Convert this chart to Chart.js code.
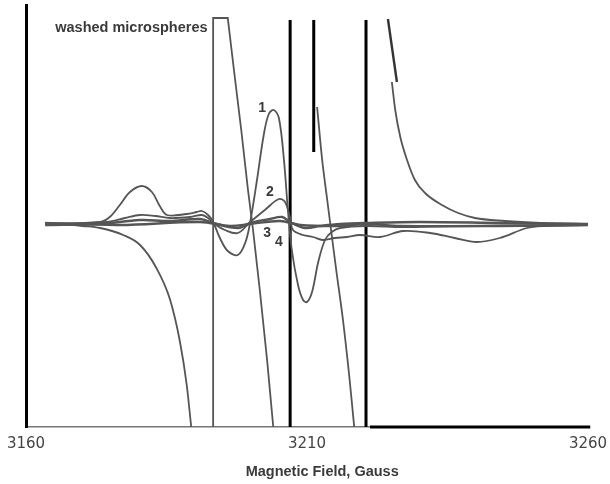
<!DOCTYPE html>
<html>
<head>
<meta charset="utf-8">
<script src="https://cdn.jsdelivr.net/npm/chart.js@4"></script>
<style>
    html, body { margin: 0; padding: 0; background: #fff; }
    #wrap { width: 610px; height: 484px; }
</style>
</head>
<body>
<div id="wrap"><canvas id="epr"></canvas></div>
<script>
// field axis (Gauss) and tick labels
const fieldMin = 3160;
const fieldMax = 3260;
const fieldStep = 50;
const axisTitle = "Magnetic Field, Gauss";

// washed microspheres trace, split where the pen goes off scale
const fieldWa = [3163.4, 3166.0, 3170.1, 3173.2, 3177.3, 3180.3, 3183.3, 3185.6, 3187.4, 3188.6, 3189.4];
const signalWa = [0, 0, -2, -4, -11, -21, -45, -75, -118, -161, -203];
const fieldWb = [3193.3, 3193.3, 3195.9, 3197.0, 3198.3, 3199.5, 3200.4, 3201.6, 3202.9, 3204.0];
const signalWb = [-203, 206, 206, 154, 94, 34, -6, -66, -136, -203];
const fieldWc = [3211.8, 3212.7, 3213.6, 3214.1, 3215.2, 3216.4, 3217.5, 3218.4];
const signalWc = [117, 64, 24, 2, -46, -96, -151, -203];
const fieldWtop = [3224.4, 3226.0];
const signalWtop = [205, 142];
const fieldWd = [3225.1, 3225.7, 3226.6, 3227.8, 3229.2, 3231.0, 3234.0, 3236.9, 3239.9, 3245.2, 3251.5, 3260];
const signalWd = [142, 114, 87, 64, 44, 31, 19, 11, 6, 3, 1, 0];

// trace 1
const field1 = [3163.4, 3173.2, 3174.9, 3176.7, 3178.5, 3180.6, 3182.4, 3183.8, 3185.1, 3188.6, 3190.4, 3191.3, 3192.4, 3193.3, 3194.5, 3195.9, 3197.7, 3199.0, 3199.9, 3201.1, 3202.3, 3203.2, 3204.1, 3205.0, 3205.9, 3206.6, 3207.3, 3208.4, 3209.3, 3210.0, 3210.9, 3212.0, 3213.2, 3214.4, 3215.9, 3220.5, 3227.1, 3235.4, 3260];
const signal1 = [0, 2, 7, 19, 32, 38, 32, 18, 9, 10, 12, 13, 9, 2, -14, -27, -31, -19, 2, 44, 89, 110, 114, 106, 64, 14, -26, -61, -76, -78, -68, -38, -16, -8, -4, -2, -3, -2, -1];

// trace 2
const field2 = [3163.4, 3174.4, 3177.6, 3180.3, 3183.0, 3185.6, 3189.2, 3191.3, 3192.4, 3193.3, 3195.4, 3197.7, 3199.9, 3202.5, 3205.0, 3206.1, 3207.0, 3207.5, 3209.3, 3211.1, 3212.8, 3215.0, 3217.1, 3219.4, 3223.0, 3227.1, 3231.9, 3236.3, 3240.2, 3244.3, 3249.1, 3252.3, 3260];
const signal2 = [0, 2, 6, 9, 8, 6, 7, 9, 6, 1, -6, -9, 2, 14, 25, 22, 6, -6, -11, -13, -16, -14, -13, -11, -13, -7, -9, -14, -18, -14, -4, -2, -1];

// trace 3
const field3 = [3163.4, 3173.2, 3180.3, 3185.6, 3191.0, 3193.3, 3197.7, 3199.9, 3203.4, 3205.6, 3207.0, 3209.6, 3212.3, 3215.9, 3220.5, 3230.1, 3244.3, 3260];
const signal3 = [-1, 0, 4, 3, 5, 1, -4, 1, 5, 7, 2, -4, -2, 0, 1, 2, 1, 0];

// trace 4
const field4 = [3163.4, 3176.7, 3191.0, 3196.3, 3199.9, 3205.2, 3208.8, 3215.9, 3220.5, 3226.6, 3244.3, 3260];
const signal4 = [1, -1, 2, -2, 0, 3, -1, -2, 0, -2, -2, -1];

// dark pen strokes over the recording
const strokeFields = [3207.0, 3211.2, 3220.5];
const strokeTops = [204, 204, 204];
const strokeBottoms = [-203, 72, -203];
const baseStroke = [3221.2, 3260.4];

// labels
const labelTexts = ["washed microspheres", "1", "2", "3", "4"];
const labelFields = [3165.2, 3202.0, 3203.4, 3202.9, 3205.0];
const labelSignals = [196, 116, 32, -9, -18];

function toPoints(xs, ys) {
    return xs.map((x, i) => ({ x: x, y: ys[i] }));
}

function trace(xs, ys, width, tension, mode) {
    return {
        data: toPoints(xs, ys),
        borderColor: '#555',
        borderWidth: width,
        pointRadius: 0,
        tension: tension,
        cubicInterpolationMode: mode || 'default',
        fill: false
    };
}

const datasets = [
    trace(field4, signal4, 2.4, 0.35),
    trace(field3, signal3, 2.4, 0.35),
    trace(field2, signal2, 1.8, 0.35),
    trace(field1, signal1, 1.8, 0.35),
    trace(fieldWa, signalWa, 1.8, 0.4, 'monotone'),
    trace(fieldWb, signalWb, 1.8, 0),
    trace(fieldWc, signalWc, 1.8, 0.3),
    trace(fieldWd, signalWd, 1.8, 0.4, 'monotone')
];

const topPiece = trace(fieldWtop, signalWtop, 2.4, 0);
topPiece.borderColor = '#333';
datasets.push(topPiece);

strokeFields.forEach((f, i) => {
    datasets.push({
        data: [{ x: f, y: strokeTops[i] }, { x: f, y: strokeBottoms[i] }],
        borderColor: '#000',
        borderWidth: 3,
        pointRadius: 0
    });
});

datasets.push({
    data: [{ x: baseStroke[0], y: -203 }, { x: baseStroke[1], y: -203 }],
    borderColor: '#000',
    borderWidth: 3,
    pointRadius: 0,
    clip: false
});

const labelPlugin = {
    id: 'labels',
    afterDatasetsDraw(chart) {
        const c = chart.ctx;
        const xs = chart.scales.x, ys = chart.scales.y;
        c.save();
        c.fillStyle = '#3a3a3a';
        c.textBaseline = 'middle';
        labelTexts.forEach((t, i) => {
            c.font = i === 0 ? 'bold 14.5px "Liberation Sans"' : 'bold 14px "Liberation Sans"';
            c.textAlign = i === 0 ? 'left' : 'center';
            c.fillText(t, xs.getPixelForValue(labelFields[i]), ys.getPixelForValue(labelSignals[i]));
        });
        c.font = 'bold 14.5px "Liberation Sans"';
        c.textAlign = 'center';
        c.fillText(axisTitle, xs.getPixelForValue(3212.7), chart.chartArea.bottom + 45);
        c.restore();
    }
};

new Chart(document.getElementById('epr'), {
    type: 'line',
    data: { datasets: datasets },
    options: {
        responsive: true,
        maintainAspectRatio: false,
        animation: false,
        layout: { padding: { top: 5, right: 22, left: 0, bottom: 0 } },
        plugins: { legend: { display: false }, tooltip: { enabled: false } },
        scales: {
            x: {
                type: 'linear',
                min: fieldMin,
                max: fieldMax,
                afterFit: s => {
                    s.height = 57;
                    s.paddingLeft = 0;
                    s.paddingRight = 0;
                },
                afterBuildTicks: s => {
                    s.ticks = [];
                    for (let v = fieldMin; v <= fieldMax; v += fieldStep) s.ticks.push({ value: v });
                },
                grid: { display: false, drawTicks: false },
                border: { color: '#777', width: 1.5 },
                ticks: {
                    padding: 8,
                    color: '#444',
                    font: { family: 'DejaVu Sans', size: 15 },
                    maxRotation: 0,
                    callback: v => String(v)
                }
            },
            y: {
                min: -203,
                max: 219,
                afterFit: s => { s.width = 26; },
                grid: { display: false, drawTicks: false },
                border: { color: '#000', width: 3 },
                ticks: { display: false }
            }
        }
    },
    plugins: [labelPlugin]
});
</script>
</body>
</html>
